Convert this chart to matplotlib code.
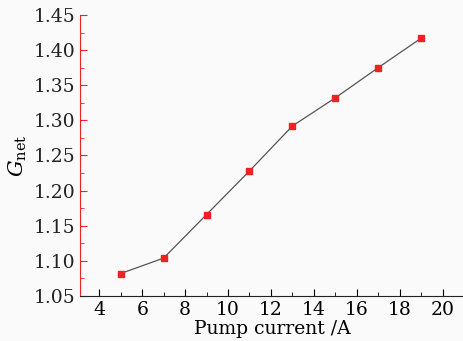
import matplotlib
matplotlib.use('Agg')
import matplotlib.pyplot as plt
from matplotlib.ticker import MultipleLocator

pump_current = [5, 7, 9, 11, 13, 15, 17, 19]
g_net = [1.082, 1.104, 1.166, 1.228, 1.292, 1.332, 1.375, 1.417]

plt.rcParams['font.family'] = 'DejaVu Serif'
plt.rcParams['mathtext.fontset'] = 'dejavuserif'

fig = plt.figure(figsize=(4.64, 3.41), dpi=100)
fig.patch.set_facecolor('#fafafa')
ax = fig.add_axes([80 / 464, 45 / 341, 384 / 464, 281 / 341])
ax.set_facecolor('#fafafa')

ax.plot(pump_current, g_net, color='#555555', lw=0.9,
        marker='s', ms=5, mfc='#ee2222', mec='#ee2222')

ax.set_xlim(3.1, 21.0)
ax.set_ylim(1.05, 1.45)
ax.xaxis.set_major_locator(MultipleLocator(2))
ax.xaxis.set_minor_locator(MultipleLocator(1))
ax.yaxis.set_major_locator(MultipleLocator(0.05))
ax.yaxis.set_minor_locator(MultipleLocator(0.025))
ax.yaxis.set_major_formatter(plt.FormatStrFormatter('%.2f'))

for s in ['top', 'right']:
    ax.spines[s].set_visible(False)
ax.spines['left'].set_color('#ee2222')
ax.spines['bottom'].set_color('#222222')
ax.tick_params(axis='both', which='both', direction='in', labelsize=13.5)
ax.tick_params(axis='y', which='both', colors='#ee2222', labelcolor='#222222')
ax.tick_params(which='major', length=5)
ax.tick_params(which='minor', length=3)

ax.set_xlabel('Pump current /A', fontsize=13.5, labelpad=1)
ax.set_ylabel(r'$G_{\mathrm{net}}$', fontsize=15, labelpad=3)

fig.savefig('out.png', dpi=100, facecolor=fig.get_facecolor())
